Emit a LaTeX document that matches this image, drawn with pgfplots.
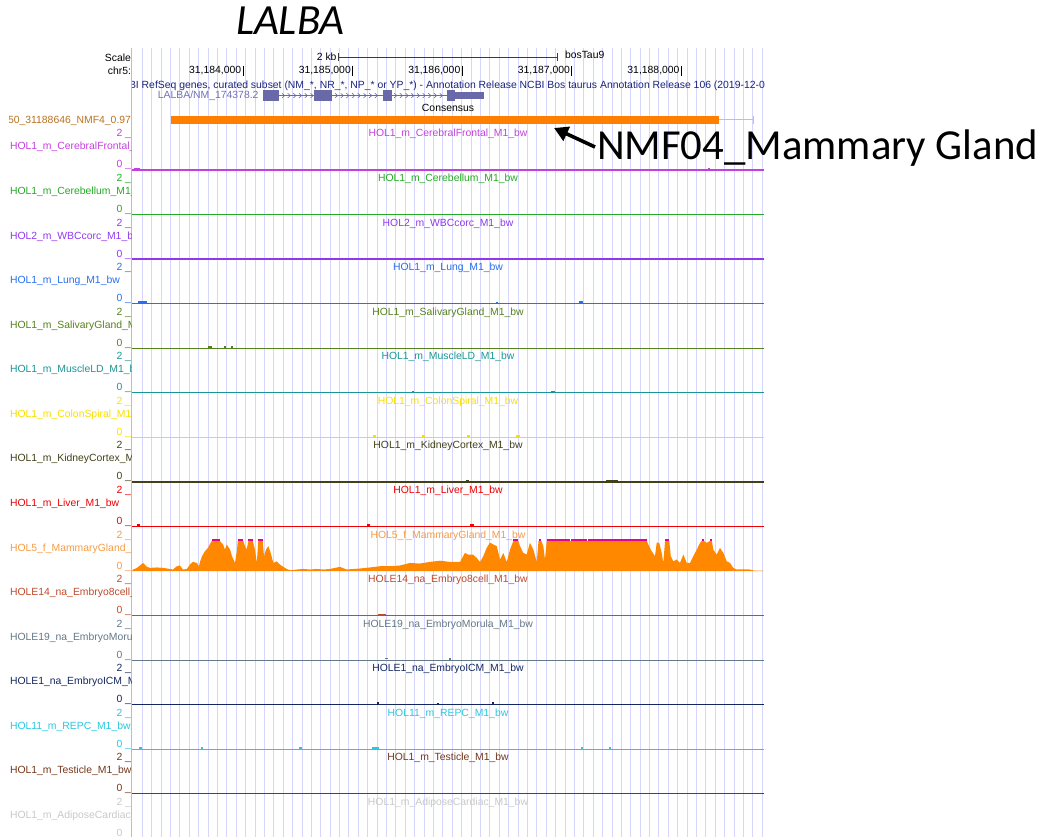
\documentclass[border=0pt]{standalone}
\usepackage{fontspec}
\setmainfont{Liberation Sans}
\newfontfamily\calibri{Carlito}
\usepackage{pgfplots}
\usepackage{pgfplotstable}
\pgfplotsset{compat=1.18}
\usetikzlibrary{arrows.meta}

\definecolor{gridc}{RGB}{214,214,252}
\definecolor{pinkc}{RGB}{242,168,168}
\definecolor{genec}{RGB}{105,105,170}
\definecolor{genet}{RGB}{112,112,182}
\definecolor{refc}{RGB}{25,35,125}
\definecolor{scalec}{RGB}{60,60,60}
\definecolor{consc}{RGB}{255,128,0}
\definecolor{consthin}{RGB}{246,182,112}
\definecolor{consl}{RGB}{185,112,30}
\definecolor{c1}{RGB}{196,64,222}
\definecolor{c2}{RGB}{36,170,36}
\definecolor{c3}{RGB}{145,55,240}
\definecolor{c4}{RGB}{40,110,240}
\definecolor{c5}{RGB}{85,130,25}
\definecolor{c6}{RGB}{25,150,150}
\definecolor{c7}{RGB}{250,222,0}
\definecolor{c8}{RGB}{65,65,25}
\definecolor{c9}{RGB}{240,0,0}
\definecolor{c10}{RGB}{255,136,0}
\definecolor{t10}{RGB}{245,155,70}
\definecolor{c11}{RGB}{190,75,45}
\definecolor{c12}{RGB}{100,120,135}
\definecolor{c13}{RGB}{20,40,95}
\definecolor{c14}{RGB}{40,200,225}
\definecolor{c15}{RGB}{115,55,25}
\definecolor{c16}{RGB}{200,200,200}

\pgfdeclareplotmark{chev}{%
  \pgfpathmoveto{\pgfqpoint{-1.3pt}{2.3pt}}%
  \pgfpathlineto{\pgfqpoint{1.3pt}{0pt}}%
  \pgfpathlineto{\pgfqpoint{-1.3pt}{-2.3pt}}%
  \pgfusepathqstroke}

% x = position on chr5 minus 31,180,000 (bp); v = signal (0-2, clipped at 2)
\pgfplotstableread{
x v
2985.3 0
2994 0.10
3031 0.21
3086 0.54
3122 0.28
3149 0.21
3213 0.24
3268 0.21
3332 0.14
3359 0.10
3395 0.32
3423 0.37
3450 0.10
3486 0.14
3514 0.43
3541 0.61
3578 0.54
3596 0.30
3606 0.61
3624 0.99
3651 1.32
3678 1.54
3712 2
3788 2
3816 1.77
3834 1.43
3850 1.77
3880 1.43
3898 0.99
3925 0.54
3944 1.43
3950 2
4001 2
4017 1.66
4032 1.43
4047 2
4087 2
4108 1.43
4124 0.54
4138 2
4178 2
4190 0.99
4208 1.43
4229 1.66
4251 1.21
4275 0.54
4306 0.65
4336 0.43
4366 0.28
4397 0.14
4427 0.05
4488 0.10
4549 0.14
4610 0.10
4671 0.14
4731 0.10
4792 0.14
4883 0.28
4945 0.10
4975 0.12
5066 0.17
5157 0.24
5249 0.32
5340 0.32
5431 0.37
5522 0.54
5613 0.50
5705 0.61
5796 0.69
5887 0.61
5979 0.61
6024 1.21
6051 1.10
6097 1.10
6131 0.88
6161 0.60
6191 0.99
6222 1.54
6252 1.90
6282 1.77
6314 1.66
6344 0.77
6374 1.21
6405 0.60
6435 1.43
6465 2
6511 2
6526 1.66
6556 1.21
6587 1.10
6617 1.88
6648 1.43
6679 0.60
6695 2
6721 2
6739 1.66
6754 0.77
6770 2
7683 2
7697 1.77
7713 1.54
7728 1.32
7758 0.99
7774 1.90
7797 1.88
7819 1.21
7834 0.54
7850 2
7889 2
7902 0.99
7925 0.65
7956 0.77
7986 0.54
8017 1.10
8048 0.54
8078 0.54
8108 0.99
8139 1.43
8169 1.88
8184 2
8205 2
8230 1.88
8260 2
8278 2
8290 1.43
8321 1.10
8351 1.54
8382 1.21
8413 0.65
8443 0.54
8473 0.21
8504 0.10
8564 0.12
8625 0.10
8671 0.02
8744 0.02
8753 0
}\mammary

% one track: baseline row, colour
\newcommand{\trackline}[2]{\addplot[#2, line width=1.3pt] table[row sep=\\, y expr={#1-15*\thisrow{v}}] {x v\\ 2985.3 0\\ 8753 0\\};}
\newcommand{\blips}[3]{\addplot[#2, line width=1.6pt] table[row sep=\\, y expr={#1-15*\thisrow{v}}] {x v\\ #3};}

\begin{document}
\begin{tikzpicture}
\useasboundingbox (0,0) rectangle (1047pt,837pt);
% browser guide lines
\begin{scope}[x=1pt, y=-1pt, shift={(0pt,837pt)}]
\foreach \k in {0,...,66} \draw[gridc, line width=1pt] ({142.3+9.394*\k},48) -- ({142.3+9.394*\k},837);
\draw[pinkc, line width=1pt] (131.8,48) -- (131.8,837);
\end{scope}

\begin{axis}[
    at={(132pt,0pt)}, anchor=south west,
    scale only axis, width=632pt, height=789pt,
    xmin=2985.3, xmax=8753, ymin=48, ymax=837, y dir=reverse,
    axis line style={draw=none}, xtick=\empty, ytick=\empty,
    clip=false, unbounded coords=jump,
]
% scale bar and position ticks
\addplot[scalec, line width=1pt] coordinates {(4868,53.3)(4868,61.3) (nan,nan) (4868,57.3)(6868,57.3) (nan,nan) (6868,53.3)(6868,61.3)};
\addplot[black, line width=1pt] coordinates {(4000,65.7)(4000,75.7) (nan,nan) (5000,65.7)(5000,75.7) (nan,nan) (6000,65.7)(6000,75.7) (nan,nan) (7000,65.7)(7000,75.7) (nan,nan) (8000,65.7)(8000,75.7)};

% gene model LALBA/NM_174378.2
\addplot[genec, line width=0.8pt] coordinates {(4329.5,95.6)(5863,95.6)};
\addplot[only marks, mark=chev, genec, mark options={line width=0.6pt}] coordinates {
 (4366,95.6)(4418,95.6)(4470,95.6)(4522,95.6)(4574,95.6)(4626,95.6)
 (4850,95.6)(4902,95.6)(4954,95.6)(5006,95.6)(5058,95.6)(5110,95.6)(5162,95.6)(5214,95.6)
 (5390,95.6)(5442,95.6)(5494,95.6)(5546,95.6)(5598,95.6)(5650,95.6)(5702,95.6)(5754,95.6)(5806,95.6)};
\addplot[fill=genec, draw=none] coordinates {(4183.5,90.5)(4329.5,90.5)(4329.5,100.7)(4183.5,100.7)};
\addplot[fill=genec, draw=none] coordinates {(4649,90.5)(4808,90.5)(4808,100.7)(4649,100.7)};
\addplot[fill=genec, draw=none] coordinates {(5279,90.5)(5355,90.5)(5355,100.7)(5279,100.7)};
\addplot[fill=genec, draw=none] coordinates {(5863,90.5)(5933,90.5)(5933,100.7)(5863,100.7)};
\addplot[fill=genec, draw=none] coordinates {(5933,92)(6198,92)(6198,98.6)(5933,98.6)};

% consensus region
\addplot[fill=consc, draw=none] coordinates {(3345,115.7)(8342,115.7)(8342,124)(3345,124)};
\addplot[consthin, line width=1pt] coordinates {(8342,120)(8659,120) (nan,nan) (8659,116)(8659,124)};

% tracks
\trackline{170.00}{c1}
\trackline{214.56}{c2}
\trackline{259.12}{c3}
\trackline{303.68}{c4}
\trackline{348.24}{c5}
\trackline{392.80}{c6}
\trackline{437.36}{c7}
\trackline{481.92}{c8}
\trackline{526.48}{c9}
\trackline{615.60}{c11}
\trackline{660.16}{c12}
\trackline{704.72}{c13}
\trackline{749.28}{c14}
\trackline{793.84}{c15}

\blips{170.00}{c1}{3003 0.08\\ 3058 0.08\\ nan nan\\ 8242 0.08\\ 8260 0.08\\}
\blips{303.68}{c4}{3040 0.1\\ 3122 0.1\\ nan nan\\ 6307 0.08\\ 6325 0.08\\ nan nan\\ 7064 0.1\\ 7100 0.1\\}
\blips{348.24}{c5}{3679 0.08\\ 3715 0.08\\ nan nan\\ 3825 0.08\\ 3843 0.08\\ nan nan\\ 3889 0.1\\ 3907 0.1\\}
\blips{392.80}{c6}{5541 0.08\\ 5559 0.08\\ nan nan\\ 6809 0.08\\ 6845 0.08\\}
\blips{437.36}{c7}{5185 0.08\\ 5211 0.08\\ nan nan\\ 5632 0.08\\ 5658 0.08\\ nan nan\\ 6043 0.08\\ 6070 0.08\\ nan nan\\ 6490 0.1\\ 6526 0.1\\}
\blips{481.92}{c8}{6033 0.08\\ 6061 0.08\\ nan nan\\ 7311 0.1\\ 7421 0.1\\}
\blips{526.48}{c9}{3031 0.08\\ 3058 0.08\\ nan nan\\ 5130 0.08\\ 5157 0.08\\ nan nan\\ 6070 0.08\\ 6106 0.08\\}
\blips{615.60}{c11}{5230 0.07\\ 5303 0.07\\}
\blips{660.16}{c12}{5294 0.1\\ 5321 0.1\\ nan nan\\ 5878 0.08\\ 5896 0.08\\}
\blips{704.72}{c13}{5221 0.1\\ 5239 0.1\\ nan nan\\ 5769 0.07\\ 5787 0.07\\ nan nan\\ 6271 0.1\\ 6289 0.1\\}
\blips{749.28}{c14}{3049 0.08\\ 3076 0.08\\ nan nan\\ 3615 0.08\\ 3632 0.08\\ nan nan\\ 4509 0.08\\ 4535 0.08\\ nan nan\\ 5176 0.1\\ 5239 0.1\\ nan nan\\ 7083 0.07\\ 7100 0.07\\ nan nan\\ 7338 0.07\\ 7355 0.07\\}

% mammary gland signal
\addplot[fill=c10, draw=none] table[y expr={571.04-15*\thisrow{v}}] {\mammary};
\addplot[magenta, line width=2pt] table[row sep=\\, y expr={571.04-15*\thisrow{v}}] {x v\\
 3712 2.07\\ 3788 2.07\\ nan nan\\ 3950 2.07\\ 4001 2.07\\ nan nan\\ 4047 2.07\\ 4087 2.07\\ nan nan\\
 4138 2.07\\ 4178 2.07\\ nan nan\\ 6465 2.07\\ 6511 2.07\\ nan nan\\ 6695 2.07\\ 6721 2.07\\ nan nan\\
 6770 2.07\\ 6985 2.07\\ nan nan\\ 6993 2.07\\ 7138 2.07\\ nan nan\\ 7146 2.07\\ 7234 2.07\\ nan nan\\
 7242 2.07\\ 7683 2.07\\ nan nan\\ 7850 2.07\\ 7889 2.07\\ nan nan\\ 8184 2.07\\ 8205 2.07\\ nan nan\\
 8260 2.07\\ 8278 2.07\\};
\end{axis}

\begin{scope}[x=1pt, y=-1pt, shift={(0pt,837pt)},
  every node/.style={inner sep=0pt, outer sep=0pt, font=\fontsize{10.4}{12}\selectfont}]
% header
\node[anchor=base west, font=\calibri\itshape\fontsize{43}{45}\selectfont] at (236,35) {LALBA};
\node[anchor=base east] at (336.5,60.7) {2 kb};
\node[anchor=base west] at (565,58.5) {bosTau9};
\node[anchor=base east] at (241.2,74) {31,184,000};
\node[anchor=base east] at (350.8,74) {31,185,000};
\node[anchor=base east] at (460.3,74) {31,186,000};
\node[anchor=base east] at (569.9,74) {31,187,000};
\node[anchor=base east] at (679.5,74) {31,188,000};
\begin{scope}
\clip (132,78) rectangle (764,93);
\node[anchor=base west, text=refc] at (114,89) {NCBI RefSeq genes, curated subset (NM\_*, NR\_*, NP\_* or YP\_*) - Annotation Release NCBI Bos taurus Annotation Release 106 (2019-12-04)};
\end{scope}
\node[anchor=base east, text=genet] at (258.5,99) {LALBA/NM\_174378.2};
\node[anchor=base] at (448,111.7) {Consensus};

% left column
\node[anchor=base east] at (131,61.7) {Scale};
\node[anchor=base east] at (131,75) {chr5:};
\begin{scope}
\clip (9.5,0) rectangle (131.6,837);
\node[anchor=base east, text=consl] at (131,124) {chr5\_31183350\_31188646\_NMF4\_0.97};
\foreach \b/\tc/\nm in {
  170.00/c1/HOL1\_m\_CerebralFrontal\_M1\_bw,
  214.56/c2/HOL1\_m\_Cerebellum\_M1\_bw,
  259.12/c3/HOL2\_m\_WBCcorc\_M1\_bw,
  303.68/c4/HOL1\_m\_Lung\_M1\_bw,
  348.24/c5/HOL1\_m\_SalivaryGland\_M1\_bw,
  392.80/c6/HOL1\_m\_MuscleLD\_M1\_bw,
  437.36/c7/HOL1\_m\_ColonSpiral\_M1\_bw,
  481.92/c8/HOL1\_m\_KidneyCortex\_M1\_bw,
  526.48/c9/HOL1\_m\_Liver\_M1\_bw,
  571.04/t10/HOL5\_f\_MammaryGland\_M1\_bw,
  615.60/c11/HOLE14\_na\_Embryo8cell\_M1\_bw,
  660.16/c12/HOLE19\_na\_EmbryoMorula\_M1\_bw,
  704.72/c13/HOLE1\_na\_EmbryoICM\_M1\_bw,
  749.28/c14/HOL11\_m\_REPC\_M1\_bw,
  793.84/c15/HOL1\_m\_Testicle\_M1\_bw,
  838.40/c16/HOL1\_m\_AdiposeCardiac\_M1\_bw}
{
  \node[anchor=base west, text=\tc] at (10,{\b-20}) {\nm};
  \node[anchor=base east, text=\tc] at (131,{\b-33}) {2 \_};
  \node[anchor=base east, text=\tc] at (131,{\b-2}) {0 \_};
}
\end{scope}

% track titles
\foreach \b/\tc/\nm in {
  170.00/c1/HOL1\_m\_CerebralFrontal\_M1\_bw,
  214.56/c2/HOL1\_m\_Cerebellum\_M1\_bw,
  259.12/c3/HOL2\_m\_WBCcorc\_M1\_bw,
  303.68/c4/HOL1\_m\_Lung\_M1\_bw,
  348.24/c5/HOL1\_m\_SalivaryGland\_M1\_bw,
  392.80/c6/HOL1\_m\_MuscleLD\_M1\_bw,
  437.36/c7/HOL1\_m\_ColonSpiral\_M1\_bw,
  481.92/c8/HOL1\_m\_KidneyCortex\_M1\_bw,
  526.48/c9/HOL1\_m\_Liver\_M1\_bw,
  571.04/t10/HOL5\_f\_MammaryGland\_M1\_bw,
  615.60/c11/HOLE14\_na\_Embryo8cell\_M1\_bw,
  660.16/c12/HOLE19\_na\_EmbryoMorula\_M1\_bw,
  704.72/c13/HOLE1\_na\_EmbryoICM\_M1\_bw,
  749.28/c14/HOL11\_m\_REPC\_M1\_bw,
  793.84/c15/HOL1\_m\_Testicle\_M1\_bw,
  838.40/c16/HOL1\_m\_AdiposeCardiac\_M1\_bw}
{
  \node[anchor=base, text=\tc] at (448,{\b-33}) {\nm};
}

% annotation
\node[anchor=base west, font=\calibri\fontsize{42.8}{45}\selectfont] at (597,160) {NMF04\_Mammary Gland};
\draw[line width=3.6pt, -{Triangle[length=14pt, width=15pt]}] (595,147) -- (554,128);
\end{scope}
\end{tikzpicture}
\end{document}
